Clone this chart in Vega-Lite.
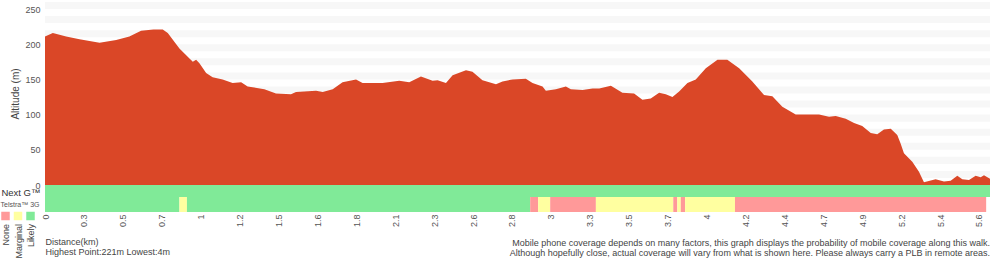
{
  "$schema": "https://vega.github.io/schema/vega-lite/v6.json",
  "padding": {"top": 2, "left": 0, "right": 0, "bottom": 0},
  "background": "white",
  "bounds": "flush",
  "config": {
    "view": {"stroke": null},
    "font": "Liberation Sans",
    "axis": {"domain": false, "ticks": false, "grid": false, "labelColor": "#555", "titleColor": "#444", "titleFontWeight": "normal", "labelFontSize": 9, "titleFontSize": 10}
  },
  "title": {
    "text": ["Mobile phone coverage depends on many factors, this graph displays the probability of mobile coverage along this walk.", "Although hopefully close, actual coverage will vary from what is shown here. Please always carry a PLB in remote areas."],
    "orient": "bottom", "anchor": "end", "fontSize": 9, "fontWeight": "normal", "color": "#444", "lineHeight": 10, "offset": -22
  },
  "resolve": {"scale": {"color": "independent", "x": "independent", "y": "independent"}},
  "spacing": 0,
  "vconcat": [
    {
      "width": 945,
      "height": 183,
      "layer": [
        {
          "data": {"values": [
            {"lo": 10, "hi": 20}, {"lo": 30, "hi": 40}, {"lo": 50, "hi": 60}, {"lo": 70, "hi": 80}, {"lo": 90, "hi": 100},
            {"lo": 110, "hi": 120}, {"lo": 130, "hi": 140}, {"lo": 150, "hi": 160}, {"lo": 170, "hi": 180}, {"lo": 190, "hi": 200},
            {"lo": 210, "hi": 220}, {"lo": 230, "hi": 240}, {"lo": 250, "hi": 260}
          ]},
          "mark": {"type": "rect", "color": "#F7F7F7"},
          "encoding": {
            "y": {"field": "lo", "type": "quantitative", "scale": {"domain": [0, 260], "nice": false},
              "axis": {"values": [0, 50, 100, 150, 200, 250], "title": "Altitude (m)", "labelPadding": 5, "titlePadding": 4, "labelOverlap": false, "labelFlush": false}},
            "y2": {"field": "hi"}
          }
        },
        {
          "data": {"values": [
            {"km": 0, "alt": 211}, {"km": 0.047, "alt": 216}, {"km": 0.127, "alt": 211}, {"km": 0.207, "alt": 207},
            {"km": 0.327, "alt": 202}, {"km": 0.427, "alt": 206}, {"km": 0.506, "alt": 211}, {"km": 0.576, "alt": 219},
            {"km": 0.65, "alt": 221}, {"km": 0.706, "alt": 221}, {"km": 0.736, "alt": 216}, {"km": 0.806, "alt": 194},
            {"km": 0.886, "alt": 175}, {"km": 0.906, "alt": 178}, {"km": 0.926, "alt": 173}, {"km": 0.966, "alt": 159},
            {"km": 1.005, "alt": 153}, {"km": 1.065, "alt": 150}, {"km": 1.125, "alt": 145}, {"km": 1.176, "alt": 146},
            {"km": 1.215, "alt": 140}, {"km": 1.315, "alt": 136}, {"km": 1.385, "alt": 130}, {"km": 1.475, "alt": 129},
            {"km": 1.505, "alt": 132}, {"km": 1.625, "alt": 134}, {"km": 1.665, "alt": 132}, {"km": 1.725, "alt": 136},
            {"km": 1.784, "alt": 146}, {"km": 1.865, "alt": 150}, {"km": 1.904, "alt": 145}, {"km": 2.024, "alt": 145},
            {"km": 2.124, "alt": 148}, {"km": 2.184, "alt": 146}, {"km": 2.254, "alt": 154}, {"km": 2.324, "alt": 148},
            {"km": 2.354, "alt": 149}, {"km": 2.404, "alt": 145}, {"km": 2.444, "alt": 156}, {"km": 2.524, "alt": 163},
            {"km": 2.563, "alt": 161}, {"km": 2.623, "alt": 149}, {"km": 2.704, "alt": 143}, {"km": 2.743, "alt": 147},
            {"km": 2.803, "alt": 150}, {"km": 2.883, "alt": 151}, {"km": 2.923, "alt": 145}, {"km": 2.983, "alt": 140},
            {"km": 3.003, "alt": 134}, {"km": 3.063, "alt": 136}, {"km": 3.123, "alt": 140}, {"km": 3.153, "alt": 136},
            {"km": 3.223, "alt": 135}, {"km": 3.283, "alt": 137}, {"km": 3.323, "alt": 137}, {"km": 3.393, "alt": 141},
            {"km": 3.462, "alt": 131}, {"km": 3.532, "alt": 130}, {"km": 3.582, "alt": 121}, {"km": 3.632, "alt": 123},
            {"km": 3.682, "alt": 131}, {"km": 3.722, "alt": 129}, {"km": 3.762, "alt": 125}, {"km": 3.802, "alt": 133},
            {"km": 3.852, "alt": 145}, {"km": 3.902, "alt": 150}, {"km": 3.962, "alt": 166}, {"km": 4.032, "alt": 178},
            {"km": 4.091, "alt": 178}, {"km": 4.162, "alt": 166}, {"km": 4.241, "alt": 147}, {"km": 4.311, "alt": 128},
            {"km": 4.361, "alt": 126}, {"km": 4.421, "alt": 111}, {"km": 4.501, "alt": 100}, {"km": 4.601, "alt": 100},
            {"km": 4.641, "alt": 100}, {"km": 4.701, "alt": 97}, {"km": 4.741, "alt": 98}, {"km": 4.801, "alt": 94},
            {"km": 4.851, "alt": 88}, {"km": 4.9, "alt": 84}, {"km": 4.951, "alt": 74}, {"km": 4.99, "alt": 72},
            {"km": 5.03, "alt": 79}, {"km": 5.071, "alt": 80}, {"km": 5.11, "alt": 71}, {"km": 5.13, "alt": 59},
            {"km": 5.15, "alt": 45}, {"km": 5.2, "alt": 33}, {"km": 5.24, "alt": 19}, {"km": 5.27, "alt": 4},
            {"km": 5.34, "alt": 8}, {"km": 5.39, "alt": 5}, {"km": 5.43, "alt": 6}, {"km": 5.47, "alt": 13},
            {"km": 5.5, "alt": 8}, {"km": 5.54, "alt": 7}, {"km": 5.58, "alt": 13}, {"km": 5.61, "alt": 11},
            {"km": 5.63, "alt": 14}, {"km": 5.666, "alt": 9}
          ]},
          "mark": {"type": "area", "color": "#DA4727"},
          "encoding": {
            "x": {"field": "km", "type": "quantitative", "scale": {"domain": [0, 5.666], "nice": false, "zero": false}, "axis": null},
            "y": {"field": "alt", "type": "quantitative",
              "axis": {"values": [0, 50, 100, 150, 200, 250], "title": "Altitude (m)", "labelPadding": 5, "titlePadding": 4, "labelOverlap": false, "labelFlush": false}}
          }
        }
      ]
    },
    {
      "width": 945,
      "height": 12,
      "data": {"values": [{"network": "Next G™", "start": 0, "end": 5.666, "coverage": "Likely"}]},
      "mark": "rect",
      "encoding": {
        "x": {"field": "start", "type": "quantitative", "scale": {"domain": [0, 5.666], "nice": false, "zero": false}, "axis": null},
        "x2": {"field": "end"},
        "y": {"field": "network", "type": "nominal", "scale": {"paddingInner": 0, "paddingOuter": 0},
          "axis": {"title": null, "labelFontSize": 9.5, "labelColor": "#333", "labelPadding": 5, "labelOffset": 2}},
        "color": {"field": "coverage", "type": "nominal", "scale": {"domain": ["None", "Marginal", "Likely"], "range": ["#FF9999", "#FFFFA0", "#80EA98"]}, "legend": null}
      }
    },
    {
      "width": 945,
      "height": 15,
      "data": {"values": [
        {"network": "Telstra™ 3G", "start": 0, "end": 0.806, "coverage": "Likely"},
        {"network": "Telstra™ 3G", "start": 0.806, "end": 0.851, "coverage": "Marginal"},
        {"network": "Telstra™ 3G", "start": 0.851, "end": 2.909, "coverage": "Likely"},
        {"network": "Telstra™ 3G", "start": 2.909, "end": 2.957, "coverage": "None"},
        {"network": "Telstra™ 3G", "start": 2.957, "end": 3.029, "coverage": "Marginal"},
        {"network": "Telstra™ 3G", "start": 3.029, "end": 3.303, "coverage": "None"},
        {"network": "Telstra™ 3G", "start": 3.303, "end": 3.767, "coverage": "Marginal"},
        {"network": "Telstra™ 3G", "start": 3.767, "end": 3.791, "coverage": "None"},
        {"network": "Telstra™ 3G", "start": 3.791, "end": 3.812, "coverage": "Marginal"},
        {"network": "Telstra™ 3G", "start": 3.812, "end": 3.838, "coverage": "None"},
        {"network": "Telstra™ 3G", "start": 3.838, "end": 4.137, "coverage": "Marginal"},
        {"network": "Telstra™ 3G", "start": 4.137, "end": 5.643, "coverage": "None"}
      ]},
      "mark": "rect",
      "encoding": {
        "x": {"field": "start", "type": "quantitative", "scale": {"domain": [0, 5.666], "nice": false, "zero": false},
          "axis": {
            "values": [0, 0.233333, 0.466667, 0.7, 0.933333, 1.166667, 1.4, 1.633333, 1.866667, 2.1, 2.333333, 2.566667, 2.8, 3.033333, 3.266667, 3.5, 3.733333, 3.966667, 4.2, 4.433333, 4.666667, 4.9, 5.133333, 5.366667, 5.6],
            "labelExpr": "['0','0.3','0.5','0.7','1','1.2','1.5','1.6','1.8','2.1','2.3','2.6','2.8','3','3.3','3.5','3.7','4','4.2','4.4','4.7','4.9','5.2','5.4','5.6'][round(datum.value / 0.233333)]",
            "labelAngle": -90, "labelPadding": 2, "labelFlush": false, "labelOverlap": false,
            "title": ["Distance(km)", "Highest Point:221m Lowest:4m"],
            "titleAnchor": "start", "titleAlign": "left", "titleFontSize": 9, "titleLineHeight": 10, "titlePadding": 11
          }},
        "x2": {"field": "end"},
        "y": {"field": "network", "type": "nominal", "scale": {"paddingInner": 0, "paddingOuter": 0},
          "axis": {"title": null, "labelFontSize": 7, "labelColor": "#555", "labelPadding": 6}},
        "color": {"field": "coverage", "type": "nominal", "scale": {"domain": ["None", "Marginal", "Likely"], "range": ["#FF9999", "#FFFFA0", "#80EA98"]},
          "legend": {
            "title": null, "orient": "none", "legendX": -44, "legendY": 14, "direction": "horizontal",
            "symbolType": "M-1,-1H1V1H-1Z M0,1L0,10.5", "symbolSize": 72, "symbolStrokeWidth": 0, "labelFontSize": 9, "labelColor": "#444",
            "labelOffset": -4, "columnPadding": 2.5, "labelAlign": "right", "labelBaseline": "middle", "padding": 0,
            "encoding": {"labels": {"angle": {"value": -90}, "align": {"value": "right"}, "baseline": {"value": "middle"}, "dx": {"value": -8}}}
          }}
      }
    }
  ]
}
